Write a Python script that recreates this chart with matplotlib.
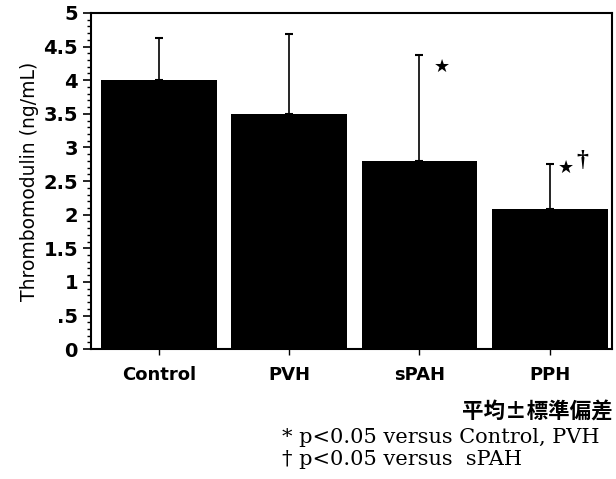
import matplotlib.pyplot as plt
from matplotlib.ticker import MultipleLocator, FixedLocator

groups = ["Control", "PVH", "sPAH", "PPH"]
means = [4.0, 3.5, 2.8, 2.08]
sd = [0.62, 1.19, 1.57, 0.67]
ytick_vals = [0, 0.5, 1, 1.5, 2, 2.5, 3, 3.5, 4, 4.5, 5]
ytick_labels = ["0", ".5", "1", "1.5", "2", "2.5", "3", "3.5", "4", "4.5", "5"]

fig = plt.figure(figsize=(6.16, 4.79), dpi=100)
ax = fig.add_axes([0.148, 0.271, 0.846, 0.702])

x = range(len(groups))
ax.bar(x, means, width=0.89, color="black", zorder=2)
ax.errorbar(x, means, yerr=[[0] * 4, sd], fmt="none", ecolor="black",
            elinewidth=1.2, capsize=3, capthick=1.5, zorder=1)

ax.set_xlim(-0.52, 3.48)
ax.set_ylim(0, 5)
ax.yaxis.set_major_locator(FixedLocator(ytick_vals))
ax.set_yticklabels(ytick_labels, fontsize=14, fontweight="bold")
ax.yaxis.set_minor_locator(MultipleLocator(0.1))
ax.tick_params(axis="y", which="major", direction="out", length=6, width=1.2)
ax.tick_params(axis="y", which="minor", direction="out", length=3, width=1)
ax.set_xticks(list(x))
ax.set_xticklabels(groups, fontsize=13, fontweight="bold")
ax.tick_params(axis="x", direction="out", length=4, width=1, pad=8)
for s in ax.spines.values():
    s.set_linewidth(1.5)
ax.set_ylabel("Thrombomodulin (ng/mL)", fontsize=13.5, labelpad=3)

# significance marks
ax.text(2.175, 4.2, "\u2605", fontsize=13, ha="center", va="center")
ax.text(3.12, 2.69, "\u2605", fontsize=13, ha="center", va="center")
ax.text(3.25, 2.80, "\u2020", fontsize=17, fontweight="bold", ha="center",
        va="center", family="Liberation Serif")

fig.text(0.995, 1 - 419 / 479, "平均\u00b1標準偏差", ha="right", va="baseline",
         fontsize=15.5, fontweight="bold", family=["Noto Sans CJK JP", "DejaVu Sans"])
fig.text(0.458, 1 - 443 / 479, "* p<0.05 versus Control, PVH", ha="left",
         va="baseline", fontsize=15, family="DejaVu Serif")
fig.text(0.458, 1 - 465 / 479, "\u2020 p<0.05 versus  sPAH", ha="left",
         va="baseline", fontsize=15, family="DejaVu Serif")

fig.savefig("out.png", dpi=100)
